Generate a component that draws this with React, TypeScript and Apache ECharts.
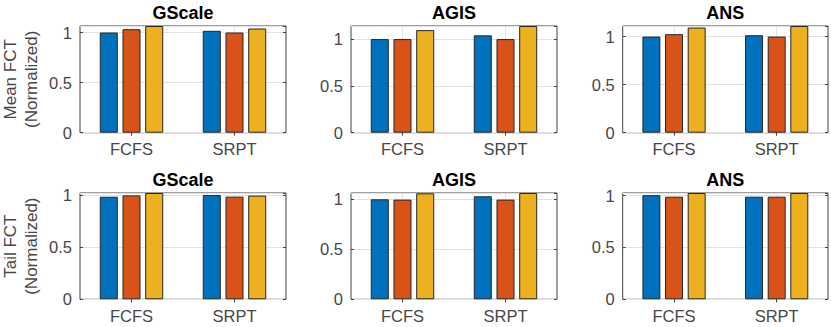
import React, { useEffect, useRef } from "react";
import * as echarts from "echarts";

const categories = ["FCFS", "SRPT"];
const panelTitles = ["GScale", "AGIS", "ANS"];
const rowLabels = ["Mean FCT\n(Normalized)", "Tail FCT\n(Normalized)"];
const yTicks = [0, 0.5, 1];

// each panel: [blue series, orange series, yellow series], values per category
const meanGScale = [[1.0, 1.017], [1.033, 1.0], [1.065, 1.04]];
const meanAGIS = [[1.0, 1.04], [1.0, 1.0], [1.096, 1.14]];
const meanANS = [[1.0, 1.014], [1.025, 1.0], [1.094, 1.11]];
const tailGScale = [[0.984, 1.0], [0.997, 0.985], [1.02, 0.995]];
const tailAGIS = [[1.0, 1.03], [0.997, 0.997], [1.06, 1.063]];
const tailANS = [[1.005, 0.99], [0.99, 0.99], [1.026, 1.026]];
const meanYMax = [1.065, 1.14, 1.11];
const tailYMax = [1.02, 1.063, 1.026];

const panels = [
  [meanGScale, meanAGIS, meanANS],
  [tailGScale, tailAGIS, tailANS],
];
const yMaxes = [meanYMax, tailYMax];

const colors = ["#0072BD", "#D95319", "#EDB120"];
const FONT = "'Liberation Sans', Arial, Helvetica, sans-serif";
const TEXT = "#474747";
const AXIS = "#404040";
const GRIDC = "#e2e2e2";

const gridLefts = [80, 351, 622.7];
const gridWidths = [206, 206, 205.3];
const gridTops = [26, 193];
const gridHeights = [106.7, 106.3];

export default function App() {
  const ref = useRef<HTMLDivElement>(null);
  useEffect(() => {
    if (!ref.current) return;
    const chart = echarts.init(ref.current, undefined, { renderer: "svg" });
    const grid: any[] = [];
    const xAxis: any[] = [];
    const yAxis: any[] = [];
    const series: any[] = [];
    const graphic: any[] = [];
    const topCats = ["", categories[0], "", categories[1], ""];
    for (let r = 0; r < 2; r++) {
      graphic.push({
        type: "text",
        x: 21,
        y: gridTops[r] + gridHeights[r] / 2,
        rotation: Math.PI / 2,
        style: {
          text: rowLabels[r],
          fill: TEXT,
          fontSize: 17,
          fontFamily: FONT,
          align: "center",
          verticalAlign: "middle",
          lineHeight: 21,
        },
      });
      for (let c = 0; c < 3; c++) {
        const k = r * 3 + c;
        grid.push({
          left: gridLefts[c],
          top: gridTops[r],
          width: gridWidths[c],
          height: gridHeights[r],
          show: true,
          backgroundColor: "#fff",
          borderColor: AXIS,
          borderWidth: 1,
        });
        graphic.push({
          type: "text",
          x: gridLefts[c] + gridWidths[c] / 2,
          y: 12.5 + (r === 1 ? 167 : 0),
          style: {
            text: panelTitles[c],
            fill: "#000",
            fontSize: 18,
            fontWeight: "bold",
            fontFamily: FONT,
            align: "center",
            verticalAlign: "middle",
          },
        });
        const ymax = yMaxes[r][c];
        xAxis.push({
          type: "category",
          gridIndex: k,
          data: categories,
          position: "bottom",
          axisLine: { show: false },
          axisTick: { show: true, inside: true, alignWithLabel: true, length: 3, lineStyle: { color: AXIS } },
          axisLabel: { color: TEXT, fontSize: 16.5, fontFamily: FONT, margin: 8 },
          splitLine: { show: false },
        });
        xAxis.push({
          type: "category",
          gridIndex: k,
          data: topCats,
          position: "top",
          boundaryGap: false,
          axisLine: { show: false },
          axisTick: {
            show: true,
            inside: true,
            length: 3,
            interval: (i: number) => i % 2 === 1,
            lineStyle: { color: AXIS },
          },
          axisLabel: { show: false },
          splitLine: {
            show: true,
            interval: (i: number) => i % 2 === 1,
            lineStyle: { color: GRIDC, width: 1 },
          },
        });
        yAxis.push({
          type: "value",
          gridIndex: k,
          min: 0,
          max: ymax,
          interval: 0.5,
          position: "left",
          axisLine: { show: false },
          axisTick: { show: true, inside: true, length: 3, lineStyle: { color: AXIS } },
          axisLabel: {
            color: TEXT,
            fontSize: 16.5,
            fontFamily: FONT,
            margin: 8,
            showMaxLabel: false,
            formatter: (v: number) => (yTicks.includes(v) ? String(v) : ""),
          },
          splitLine: { show: true, lineStyle: { color: GRIDC, width: 1 } },
        });
        yAxis.push({
          type: "value",
          gridIndex: k,
          min: 0,
          max: ymax,
          interval: 0.5,
          position: "right",
          axisLine: { show: false },
          axisTick: { show: true, inside: true, length: 3, lineStyle: { color: AXIS } },
          axisLabel: { show: false },
          splitLine: { show: false },
        });
        const data = panels[r][c];
        for (let s = 0; s < 3; s++) {
          series.push({
            type: "bar",
            xAxisIndex: 2 * k,
            yAxisIndex: 2 * k,
            data: data[s],
            barWidth: "17.5%",
            barGap: "26%",
            itemStyle: { color: colors[s], borderColor: "#262626", borderWidth: 1 },
            emphasis: { disabled: true },
          });
        }
      }
    }
    chart.setOption({
      animation: false,
      grid,
      xAxis,
      yAxis,
      series,
      graphic,
    });
    return () => chart.dispose();
  }, []);
  return (
    <div
      ref={ref}
      style={{ position: "fixed", left: 0, top: 0, width: 831, height: 327, background: "#fff" }}
    />
  );
}
